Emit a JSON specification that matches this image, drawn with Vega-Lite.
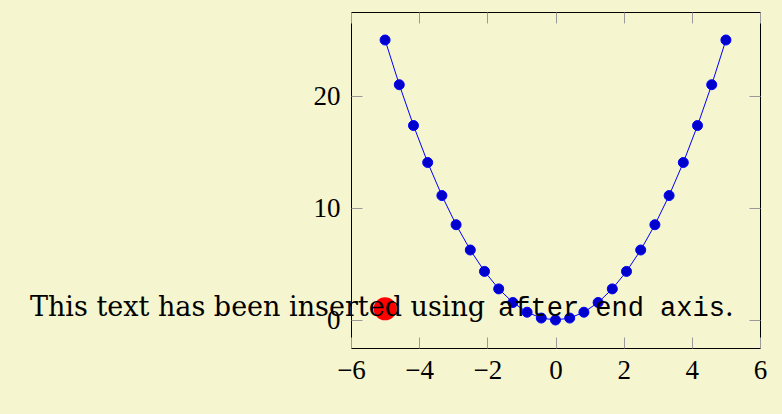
{
  "$schema": "https://vega.github.io/schema/vega-lite/v6.json",
  "width": 409,
  "height": 336,
  "autosize": {"type": "none"},
  "padding": {"left": 351, "top": 12, "right": 22, "bottom": 66},
  "background": "#f5f5cf",
  "config": {
    "view": {"stroke": "#000000", "strokeWidth": 1},
    "axis": {"grid": false, "domain": false, "tickColor": "#9a9a9a", "tickSize": -11, "tickWidth": 1, "labelFont": "Liberation Serif", "labelFontSize": 27, "labelColor": "#000000", "title": null}
  },
  "resolve": {"axis": {"x": "independent", "y": "independent"}},
  "data": {"values": [
    {"x": -5, "y": 25},
    {"x": -4.5833, "y": 21.007},
    {"x": -4.1667, "y": 17.361},
    {"x": -3.75, "y": 14.0625},
    {"x": -3.3333, "y": 11.111},
    {"x": -2.9167, "y": 8.507},
    {"x": -2.5, "y": 6.25},
    {"x": -2.0833, "y": 4.34},
    {"x": -1.6667, "y": 2.778},
    {"x": -1.25, "y": 1.5625},
    {"x": -0.8333, "y": 0.694},
    {"x": -0.4167, "y": 0.174},
    {"x": 0, "y": 0},
    {"x": 0.4167, "y": 0.174},
    {"x": 0.8333, "y": 0.694},
    {"x": 1.25, "y": 1.5625},
    {"x": 1.6667, "y": 2.778},
    {"x": 2.0833, "y": 4.34},
    {"x": 2.5, "y": 6.25},
    {"x": 2.9167, "y": 8.507},
    {"x": 3.3333, "y": 11.111},
    {"x": 3.75, "y": 14.0625},
    {"x": 4.1667, "y": 17.361},
    {"x": 4.5833, "y": 21.007},
    {"x": 5, "y": 25}
  ]},
  "layer": [
    {
      "mark": {"type": "line", "color": "#0000ff", "strokeWidth": 1},
      "encoding": {
        "x": {"field": "x", "type": "quantitative", "scale": {"domain": [-6, 6], "nice": false, "zero": false},
              "axis": {"orient": "bottom", "values": [-6, -4, -2, 0, 2, 4, 6], "labelPadding": 20, "labelFlush": false, "labelOverlap": false}},
        "y": {"field": "y", "type": "quantitative", "scale": {"domain": [-2.5, 27.5], "nice": false, "zero": false},
              "axis": {"orient": "left", "values": [0, 10, 20], "labelPadding": 22, "labelBaseline": "middle"}}
      }
    },
    {
      "mark": {"type": "point", "filled": true, "fill": "#0000cc", "stroke": "#0000ff", "strokeWidth": 1, "size": 100, "opacity": 1},
      "encoding": {
        "x": {"field": "x", "type": "quantitative", "scale": {"domain": [-6, 6], "nice": false, "zero": false},
              "axis": {"orient": "top", "values": [-6, -4, -2, 0, 2, 4, 6], "labels": false}},
        "y": {"field": "y", "type": "quantitative", "scale": {"domain": [-2.5, 27.5], "nice": false, "zero": false},
              "axis": {"orient": "right", "values": [0, 10, 20], "labels": false}}
      }
    },
    {
      "data": {"values": [{"x": -5, "y": 1}]},
      "mark": {"type": "point", "filled": true, "color": "#ff0000", "size": 530, "opacity": 1},
      "encoding": {
        "x": {"field": "x", "type": "quantitative", "axis": null},
        "y": {"field": "y", "type": "quantitative", "axis": null}
      }
    },
    {
      "data": {"values": [{"x": -5, "y": 1}]},
      "mark": {"type": "text", "text": "This text has been inserted using", "align": "right", "baseline": "alphabetic", "dx": 100, "dy": 7, "font": "DejaVu Serif", "fontSize": 27, "color": "#000000"},
      "encoding": {
        "x": {"field": "x", "type": "quantitative", "axis": null},
        "y": {"field": "y", "type": "quantitative", "axis": null}
      }
    },
    {
      "data": {"values": [{"x": -5, "y": 1}]},
      "mark": {"type": "text", "text": "after end axis", "align": "left", "baseline": "alphabetic", "dx": 113, "dy": 7, "font": "Liberation Mono", "fontSize": 27, "color": "#000000"},
      "encoding": {
        "x": {"field": "x", "type": "quantitative", "axis": null},
        "y": {"field": "y", "type": "quantitative", "axis": null}
      }
    },
    {
      "data": {"values": [{"x": -5, "y": 1}]},
      "mark": {"type": "text", "text": ".", "align": "left", "baseline": "alphabetic", "dx": 340, "dy": 7, "font": "DejaVu Serif", "fontSize": 27, "color": "#000000"},
      "encoding": {
        "x": {"field": "x", "type": "quantitative", "axis": null},
        "y": {"field": "y", "type": "quantitative", "axis": null}
      }
    }
  ]
}
